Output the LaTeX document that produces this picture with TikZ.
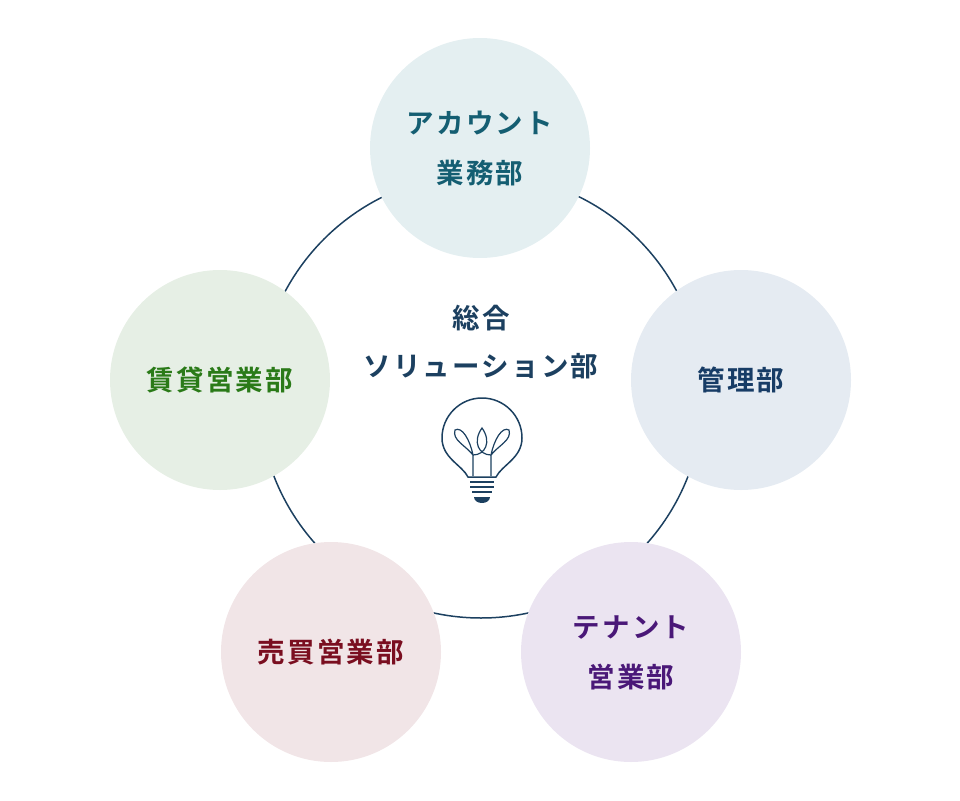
\documentclass[tikz,border=0pt]{standalone}
\usepackage{fontspec}
\setmainfont{Noto Sans CJK JP}[BoldFont={Noto Sans CJK JP Bold},LetterSpace=8]
\definecolor{ring}{HTML}{1C4060}
\definecolor{fa}{HTML}{E4EFF1}\definecolor{ta}{HTML}{145E72}
\definecolor{fb}{HTML}{E6EFE5}\definecolor{tb}{HTML}{2A7A18}
\definecolor{fc}{HTML}{E5EBF2}\definecolor{tc}{HTML}{173C66}
\definecolor{fd}{HTML}{F1E5E7}\definecolor{td}{HTML}{7A0E20}
\definecolor{fe}{HTML}{EBE4F1}\definecolor{te}{HTML}{4A1878}
\tikzset{dept/.style={circle,minimum size=220pt,inner sep=0pt,align=center,font=\fontsize{27.5pt}{51pt}\selectfont\bfseries}}
\begin{document}
\begin{tikzpicture}[x=1pt,y=-1pt]
\useasboundingbox (0,0) rectangle (960,800);
\draw[ring,line width=1.5pt] (481,396) circle (222);
\node[dept,fill=fa,text=ta] (a) at (480,148) {\raisebox{-10pt}{\begin{tabular}{c}アカウント\\[-1pt]業務部\end{tabular}}};
\node[dept,fill=fb,text=tb] (b) at (220,380) {賃貸営業部};
\node[dept,fill=fc,text=tc] (c) at (741,380) {管理部};
\node[dept,fill=fd,text=td] (d) at (331,652) {売買営業部};
\node[dept,fill=fe,text=te] (e) at (631,652) {\raisebox{-10pt}{\begin{tabular}{c}テナント\\[-1pt]営業部\end{tabular}}};
\node[align=center,text=ring,font=\fontsize{27.5pt}{48pt}\selectfont\bfseries] (m) at (481,342) {総合\\ソリューション部};
\begin{scope}[ring,line width=1.5pt]
\draw (468,477) .. controls (462,465) and (442,458) .. (442,438) arc[start angle=180,end angle=360,radius=40] .. controls (522,458) and (502,465) .. (496,477) -- cycle;
\draw[line width=1.2pt] (473,476) -- (473,455) (491,476) -- (491,455)
 (473,455) .. controls (465,445) and (452,440) .. (455,430) .. controls (462,426) and (470,440) .. (473,455)
 (491,455) .. controls (499,445) and (512,440) .. (509,430) .. controls (502,426) and (494,440) .. (491,455)
 (473,455) .. controls (485,455) and (492,442) .. (482,428) .. controls (472,442) and (479,455) .. (491,455);
\draw (470,482) -- (494,482) (470,487) -- (494,487) (472,492) -- (492,492);
\fill (474,497) -- (490,497) .. controls (490,505) and (474,505) .. (474,497) -- cycle;
\end{scope}
\end{tikzpicture}
\end{document}
